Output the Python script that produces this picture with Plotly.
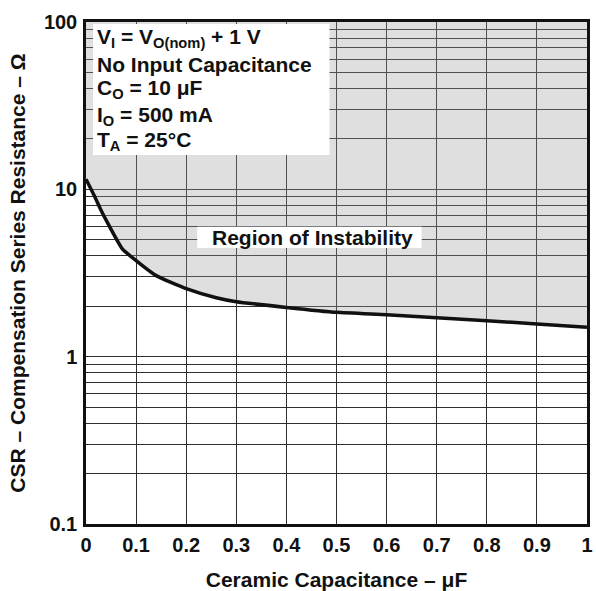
import plotly.graph_objects as go

# Data
cap = [0, 0.017, 0.03, 0.045, 0.073, 0.1, 0.14, 0.2, 0.26, 0.3, 0.4, 0.5, 0.6, 0.7, 0.8, 0.9, 1.0]
csr = [11.5, 9.1, 7.5, 6.15, 4.39, 3.75, 3.05, 2.55, 2.25, 2.13, 1.97, 1.84, 1.78, 1.71, 1.64, 1.57, 1.50]

x_ticks = [0, 0.1, 0.2, 0.3, 0.4, 0.5, 0.6, 0.7, 0.8, 0.9, 1]
x_ticktext = ["0", "0.1", "0.2", "0.3", "0.4", "0.5", "0.6", "0.7", "0.8", "0.9", "1"]
y_ticks = [0.1, 1, 10, 100]
y_ticktext = ["0.1", "1", "10", "100"]
y_minor = [m * d for d in (0.1, 1, 10) for m in range(2, 10)]

cond_lines = [
    "V<sub>I</sub> = V<sub>O(nom)</sub> + 1 V",
    "No Input Capacitance",
    "C<sub>O</sub> = 10 μF",
    "I<sub>O</sub> = 500 mA",
    "T<sub>A</sub> = 25°C",
]
region_label = "Region of Instability"

FONT = "Liberation Sans, Arial, sans-serif"

fig = go.Figure()

# Shaded region of instability (above the curve up to the top of the axis)
fig.add_trace(go.Scatter(
    x=cap + [cap[-1], cap[0]],
    y=csr + [y_ticks[-1], y_ticks[-1]],
    fill="toself",
    fillcolor="rgba(155,156,160,0.32)",
    line=dict(width=0),
    mode="lines",
    hoverinfo="skip",
    showlegend=False,
))

# Boundary curve
fig.add_trace(go.Scatter(
    x=cap, y=csr, mode="lines",
    line=dict(color="#111111", width=3.5, shape="spline", smoothing=0.5),
    showlegend=False,
))

# White boxes
fig.add_shape(type="rect", xref="x", yref="paper", x0=0.014, x1=0.486, y0=0.735, y1=0.996,
              fillcolor="white", line=dict(width=0), layer="above")
fig.add_shape(type="rect", xref="x", yref="paper", x0=0.222, x1=0.67, y0=0.550, y1=0.592,
              fillcolor="white", line=dict(width=0), layer="above")

# Condition text
line_y = [0.968, 0.915, 0.866, 0.813, 0.763]
for t, yy in zip(cond_lines, line_y):
    fig.add_annotation(x=0.017, y=yy, xref="x", yref="paper", text="<b>" + t + "</b>",
                       showarrow=False, xanchor="left", yanchor="middle",
                       font=dict(family=FONT, size=21, color="#111111"))

fig.add_annotation(x=0.452, y=0.5707, xref="x", yref="paper", text="<b>" + region_label + "</b>",
                   showarrow=False, xanchor="center", yanchor="middle",
                   font=dict(family=FONT, size=21, color="#111111"))

fig.update_layout(
    width=596, height=591,
    margin=dict(l=86, r=9, t=22, b=67),
    paper_bgcolor="white", plot_bgcolor="white",
    font=dict(family=FONT, size=20, color="#111111"),
    showlegend=False,
)

fig.update_xaxes(
    range=[0, 1], automargin=False,
    tickvals=x_ticks, ticktext=["<b>%s</b>" % t for t in x_ticktext],
    tickfont=dict(size=20),
    showgrid=True, gridcolor="#2e2e2e", gridwidth=1.4,
    showline=True, linecolor="#111111", linewidth=2.5, mirror=True,
    zeroline=False, ticks="", ticklabelstandoff=1, ticklabeloverflow="allow",
    title=dict(text="<b>Ceramic Capacitance – μF</b>", font=dict(size=21), standoff=18),
)
fig.update_yaxes(
    type="log", range=[-1, 2], automargin=False,
    tickvals=y_ticks, ticktext=["<b>%s</b>" % t for t in y_ticktext],
    tickfont=dict(size=20),
    showgrid=True, gridcolor="#2e2e2e", gridwidth=1.4,
    minor=dict(tickvals=y_minor, showgrid=True, gridcolor="#2e2e2e", gridwidth=1.4, ticks=""),
    showline=True, linecolor="#111111", linewidth=2.5, mirror=True,
    zeroline=False, ticks="", ticklabelstandoff=2,
    title=dict(text="<b>CSR – Compensation Series Resistance – Ω</b>", font=dict(size=21), standoff=13),
)

fig.write_html("out.html", config={"displayModeBar": False},
               post_script="document.body.style.margin='0';")
